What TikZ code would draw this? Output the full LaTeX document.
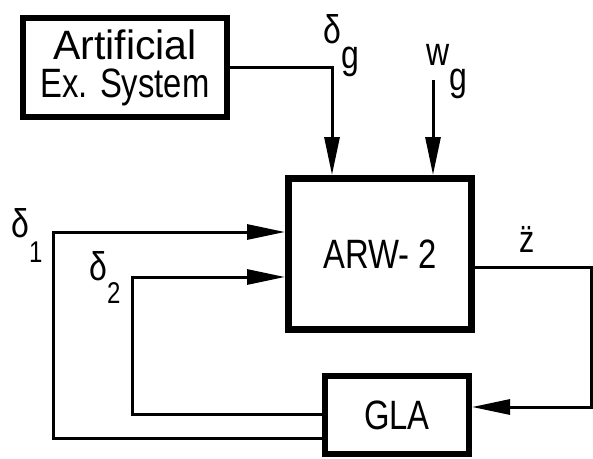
\documentclass[tikz,border=0pt]{standalone}
\usepackage{fontspec}
\setmainfont{Liberation Sans}[FakeStretch=0.8]
\newfontfamily\widefont{Liberation Sans}
\usetikzlibrary{arrows.meta}
\newcommand{\subsz}{\fontsize{30}{30}\selectfont}
\begin{document}
\begin{tikzpicture}[x=1pt,y=-1pt,
  box/.style={draw, line width=6pt, inner sep=0pt, align=center,
    font=\fontsize{41}{38}\selectfont},
  conn/.style={line width=3pt},
  arr/.style={conn, -{Triangle[length=38pt,width=15pt]}},
  lab/.style={font=\fontsize{40}{40}\selectfont, inner sep=0pt, anchor=base west}]
\useasboundingbox (0,0) rectangle (593,458);
% blocks
\node[box, line width=5.5pt, minimum width=204pt, minimum height=99pt] (art) at (125,67.5) {{\widefont Artificial}\\Ex. System};
\node[box, line width=7pt, minimum width=183pt, minimum height=151pt] (arw) at (380,254) {ARW- 2};
\node[box, minimum width=144pt, minimum height=78pt] (gla) at (397,415) {\raisebox{-4pt}{GLA}};
% connectors
\draw[arr] (art.east) -| ([xshift=47pt]arw.north west);
\coordinate (wg) at (433,80);
\draw[arr] (wg) -- (wg |- arw.north);
\coordinate (d1) at (53,232);
\draw[arr] ([yshift=-23pt]gla.west) -| (d1) -- (d1 -| arw.west);
\coordinate (d2) at (132,277);
\draw[arr] ([yshift=1pt]gla.west) -| (d2) -- (d2 -| arw.west);
\coordinate (zc) at (591,407);
\draw[arr] ([yshift=-13pt]arw.east) -| (zc) -- (zc -| gla.east);
% labels
\node[lab] (lg) at (323,43) {δ\raisebox{-25pt}{g}};
\node[lab] (lw) at (426,65) {w\raisebox{-25pt}{g}};
\node[lab] (l1) at (11,237) {δ\raisebox{-25pt}{\subsz 1}};
\node[lab] (l2) at (89,280) {δ\raisebox{-23pt}{\subsz 2}};
\node[lab, font=\fontsize{38}{38}\selectfont] (lz) at (519,252) {\"z};
\end{tikzpicture}
\end{document}
